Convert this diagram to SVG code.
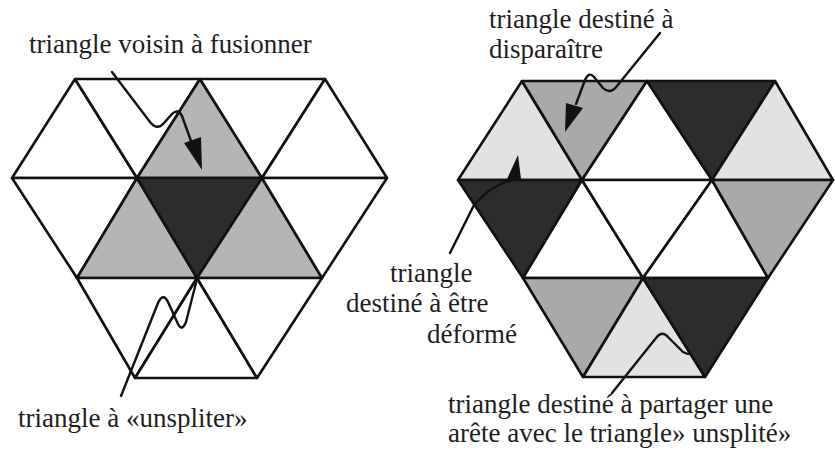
<svg xmlns="http://www.w3.org/2000/svg" width="835" height="452" viewBox="0 0 835 452">
<style>
.t{stroke:#111;stroke-width:2.6;stroke-linejoin:round}
.w{fill:#fff}.g{fill:#b5b5b5}.m{fill:#a9a9a9}.l{fill:#e2e2e2}.d{fill:#2c2c2c}
.c{fill:none;stroke:#111;stroke-width:2.4;stroke-linecap:round;stroke-linejoin:round}
.h{fill:#111}
.x{font-size:27px;fill:#1e1e1e}
</style>
<rect width="835" height="452" fill="#fff"/>
<g id="left-mesh" class="t">
<polygon id="L1" class="w" points="75,79 12,178 137,178"/>
<polygon id="L2" class="w" points="75,79 200,79 137,178"/>
<polygon id="L3" class="g" points="200,79 137,178 262,178"/>
<polygon id="L4" class="w" points="200,79 325,79 262,178"/>
<polygon id="L5" class="w" points="325,79 262,178 387,178"/>
<polygon id="L6" class="w" points="12,178 137,178 77,278"/>
<polygon id="L7" class="g" points="137,178 77,278 197,278"/>
<polygon id="L8" class="d" points="137,178 262,178 197,278"/>
<polygon id="L9" class="g" points="262,178 197,278 322,278"/>
<polygon id="L10" class="w" points="262,178 387,178 322,278"/>
<polygon id="L11" class="w" points="77,278 197,278 135,378"/>
<polygon id="L12" class="w" points="197,278 135,378 257,378"/>
<polygon id="L13" class="w" points="197,278 322,278 257,378"/>
</g>
<g id="right-mesh" class="t">
<polygon id="R1" class="l" points="522,81 458,180 582,180"/>
<polygon id="R2" class="m" points="522,81 647,81 582,180"/>
<polygon id="R3" class="w" points="647,81 582,180 712,180"/>
<polygon id="R4" class="d" points="647,81 775,81 712,180"/>
<polygon id="R5" class="l" points="775,81 712,180 833,180"/>
<polygon id="R6" class="d" points="458,180 582,180 523,278"/>
<polygon id="R7" class="w" points="582,180 523,278 643,278"/>
<polygon id="R8" class="w" points="582,180 712,180 643,278"/>
<polygon id="R9" class="w" points="712,180 643,278 768,278"/>
<polygon id="R10" class="m" points="712,180 833,180 768,278"/>
<polygon id="R11" class="m" points="523,278 643,278 583,377"/>
<polygon id="R12" class="l" points="643,278 583,377 705,377"/>
<polygon id="R13" class="d" points="643,278 768,278 705,377"/>
</g>
<g id="connectors">
<path class="c" d="M112,72 L150,122 Q157,131 164,123 L172,114 Q178,108 182,116 L191,141"/>
<polygon class="h" points="184,143 201,137 202,170"/>
<path class="c" d="M121,396 L158,303 Q163,292 168,302 L178,324 Q182,332 186,322 L197,279"/>
<path class="c" d="M660,33 L617,86 Q610,95 603,88 L594,77 Q589,71 585,80 L576,104"/>
<polygon class="h" points="566,103 583,108 565,132"/>
<path class="c" d="M450,253 L474,205 Q490,186 512,180"/>
<polygon class="h" points="507,179 521,179 518,155"/>
<path class="c" d="M612,393 L656,338 Q662,330 668,337 L683,352 L688,354"/>
</g>
<g font-family="'Liberation Serif', 'Times New Roman', 'DejaVu Serif', serif">
<g id="label-voisin"><text class="x" x="29" y="53">triangle voisin à fusionner</text></g>
<g id="label-disparaitre"><text class="x" x="489" y="28">triangle destiné à</text><text class="x" x="489" y="58">disparaître</text></g>
<g id="label-deforme"><text class="x" x="390" y="282">triangle</text><text class="x" x="346" y="312">destiné à être</text><text class="x" x="427" y="343">déformé</text></g>
<g id="label-unspliter"><text class="x" x="18" y="427">triangle à «unspliter»</text></g>
<g id="label-partager"><text class="x" x="448" y="413">triangle destiné à partager une</text><text class="x" x="448" y="442">arête avec le triangle» unsplité»</text></g>
</g>
</svg>
